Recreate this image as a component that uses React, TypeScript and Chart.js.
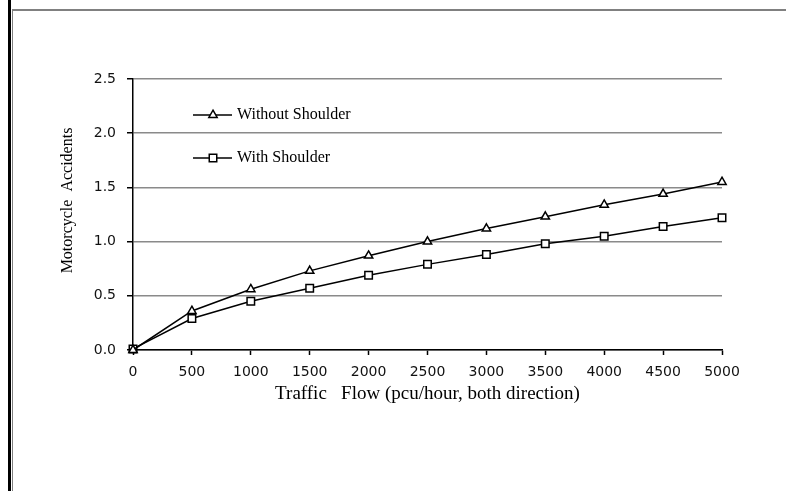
import React, { useEffect, useRef } from "react";
import { Chart, registerables } from "chart.js";
import { drawPoint } from "chart.js/helpers";

Chart.register(...registerables);

const flows = [0, 500, 1000, 1500, 2000, 2500, 3000, 3500, 4000, 4500, 5000];
const withoutShoulder = [0, 0.36, 0.56, 0.73, 0.87, 1.0, 1.12, 1.23, 1.34, 1.44, 1.55];
const withShoulder = [0.01, 0.29, 0.45, 0.57, 0.69, 0.79, 0.88, 0.98, 1.05, 1.14, 1.22];
const seriesNames = ["Without Shoulder", "With Shoulder"];
const xTitle = "Traffic   Flow (pcu/hour, both direction)";
const yTitle = "       Motorcycle  Accidents";

const serif = "'Liberation Serif', 'Times New Roman', serif";
const sans = "'DejaVu Sans', sans-serif";

const framePlugin = {
  id: "frame",
  beforeDraw(chart: any) {
    const ctx = chart.ctx;
    ctx.save();
    ctx.fillStyle = "#ffffff";
    ctx.fillRect(0, 0, chart.width, chart.height);
    ctx.fillStyle = "#000000";
    ctx.fillRect(8, 0, 3, chart.height);
    ctx.strokeStyle = "#808080";
    ctx.lineWidth = 1;
    ctx.beginPath();
    ctx.moveTo(12.5, 9);
    ctx.lineTo(12.5, chart.height);
    ctx.stroke();
    ctx.lineWidth = 2;
    ctx.beginPath();
    ctx.moveTo(12, 10);
    ctx.lineTo(chart.width, 10);
    ctx.stroke();
    ctx.restore();
  },
};

const legendPlugin = {
  id: "innerLegend",
  afterDraw(chart: any) {
    const ctx = chart.ctx;
    const rows = [115, 158];
    ctx.save();
    chart.data.datasets.forEach((ds: any, i: number) => {
      const y = rows[i];
      ctx.strokeStyle = "#000";
      ctx.lineWidth = 1.5;
      ctx.beginPath();
      ctx.moveTo(193, y);
      ctx.lineTo(232, y);
      ctx.stroke();
      ctx.fillStyle = "#fff";
      ctx.strokeStyle = "#000";
      ctx.lineWidth = 1.5;
      drawPoint(ctx, { pointStyle: ds.pointStyle, radius: ds.pointRadius, borderWidth: 1.5, rotation: 0 }, 213, y);
      ctx.fillStyle = "#000";
      ctx.font = "16px " + serif;
      ctx.textBaseline = "middle";
      ctx.textAlign = "left";
      ctx.fillText(ds.label, 237, y);
    });
    ctx.restore();
  },
};

export default function App() {
  const ref = useRef<HTMLCanvasElement | null>(null);
  useEffect(() => {
    if (!ref.current) return;
    const chart = new Chart(ref.current, {
      type: "line",
      data: {
        labels: flows,
        datasets: [
          {
            label: seriesNames[0],
            data: flows.map((x, i) => ({ x, y: withoutShoulder[i] })),
            borderColor: "#000",
            borderWidth: 1.5,
            backgroundColor: "#fff",
            pointStyle: "triangle",
            pointRadius: 4.8,
            pointBorderWidth: 1.5,
            pointBackgroundColor: "#fff",
            pointBorderColor: "#000",
            tension: 0,
            clip: false,
          },
          {
            label: seriesNames[1],
            data: flows.map((x, i) => ({ x, y: withShoulder[i] })),
            borderColor: "#000",
            borderWidth: 1.5,
            backgroundColor: "#fff",
            pointStyle: "rect",
            pointRadius: 5.3,
            pointBorderWidth: 1.5,
            pointBackgroundColor: "#fff",
            pointBorderColor: "#000",
            tension: 0,
            clip: false,
          },
        ],
      },
      options: {
        responsive: false,
        animation: false,
        layout: { padding: { left: 58, right: 64, top: 79, bottom: 86 } },
        plugins: { legend: { display: false }, tooltip: { enabled: false } },
        scales: {
          x: {
            type: "linear",
            min: 0,
            max: 5000,
            afterFit: (s: any) => { s.height = 55; },
            ticks: { stepSize: 500, color: "#111", font: { family: sans, size: 14 }, padding: 9, maxRotation: 0, autoSkip: false, callback: (v: any) => String(v) },
            grid: { drawOnChartArea: false, drawTicks: true, tickLength: 5, tickColor: "#000", tickWidth: 1.5 },
            border: { color: "#000", width: 1.5 },
            title: { display: true, text: xTitle, font: { family: serif, size: 19 }, color: "#000", padding: 0 },
          },
          y: {
            min: 0,
            max: 2.5,
            afterFit: (s: any) => { s.width = 75; },
            ticks: { stepSize: 0.5, color: "#111", font: { family: sans, size: 14 }, padding: 11, callback: (v: any) => Number(v).toFixed(1) },
            grid: { color: "#8a8a8a", lineWidth: 1.5, tickLength: 6, tickColor: "#000", tickWidth: 1.5 },
            border: { color: "#000", width: 1.5 },
            title: { display: true, text: yTitle, font: { family: serif, size: 16 }, color: "#000", padding: 0 },
          },
        },
      },
      plugins: [framePlugin, legendPlugin],
    });
    return () => chart.destroy();
  }, []);
  return (
    <div style={{ position: "fixed", left: 0, top: 0, width: 786, height: 491, background: "#fff" }}>
      <canvas ref={ref} width={786} height={491} style={{ display: "block" }} />
    </div>
  );
}
